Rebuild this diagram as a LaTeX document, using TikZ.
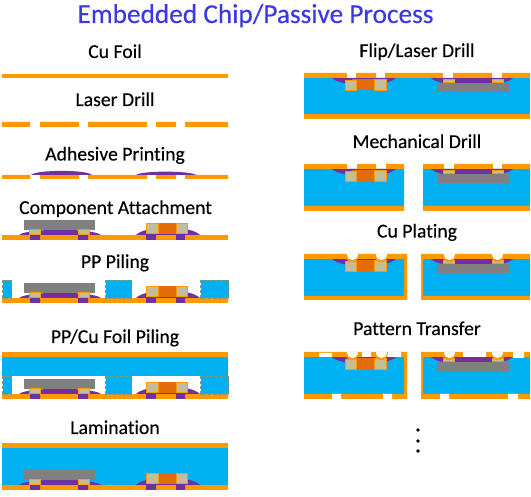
\documentclass[tikz,border=0pt]{standalone}
\usepackage{fontspec}
\setmainfont{Carlito}[Ligatures=CommonOff,FakeBold=0.25]
\definecolor{cu}{HTML}{FF9900}
\definecolor{pp}{HTML}{00B0F0}
\definecolor{adh}{HTML}{7030A0}
\definecolor{chipgrey}{HTML}{808080}
\definecolor{tan}{HTML}{C4BD97}
\definecolor{cerm}{HTML}{E36C09}
\definecolor{titleblue}{HTML}{3C38E4}
\definecolor{ppedge}{HTML}{7F9A75}
\tikzset{
  lbl/.style={font=\fontsize{19.7}{22}\selectfont,text=black,inner sep=0pt,anchor=base},
  ttl/.style={font=\fontsize{27.3}{30}\selectfont,text=titleblue,inner sep=0pt,anchor=base},
  pad/.style={fill=tan,draw=cu,line width=1pt},
  ppblock/.style={fill=pp,draw=ppedge,line width=0.8pt,densely dashed},
}
% left-column assembly on a foil whose top is y=235
\newcommand{\foilunit}{%
  \fill[cu] (2,235) rectangle (228,240);
  \fill[adh] (30,235) rectangle (40,240) (78,235) rectangle (88,240)
             (146,235) rectangle (156,240) (176,235) rectangle (185,240);
  \fill[adh] (19,235) .. controls (27,228) and (93,228) .. (101,235) -- cycle;
  \fill[adh] (136,235) .. controls (146,225) and (190,225) .. (200,235) -- cycle;
  \fill[chipgrey] (24,220) rectangle (95,230);
  \fill[cerm] (159,223) rectangle (176,234);
  \draw[pad] (29,230) rectangle (40.5,235) (78.5,230) rectangle (89.5,235);
  \draw[pad] (146.5,223.5) rectangle (158.5,234) (176.5,223.5) rectangle (187.5,234);
}
% right-column embedded parts, blue top at y=78
\newcommand{\flipL}{%
  \fill[adh] (332,78) .. controls (340,87) and (388,87) .. (396,78) -- cycle;
  \fill[cerm] (352,79) rectangle (375,90);
  \draw[pad] (345.5,80.5) rectangle (356.5,90.5) (374.5,79.5) rectangle (386.5,90.5);
}
\newcommand{\flipR}{%
  \fill[adh] (431,78) .. controls (439,88) and (505,88) .. (513,78) -- cycle;
  \draw[pad] (443.5,79.5) rectangle (454.5,83) (492.5,79.5) rectangle (503.5,83);
  \fill[chipgrey] (437,83) rectangle (508.5,92);
}
\newcommand{\dimple}[2]{%
  \fill[cu] (#1-7,#2) .. controls (#1-7,#2+11) and (#1+7,#2+11) .. (#1+7,#2) -- cycle;
  \fill[white] (#1-5.5,#2) .. controls (#1-5.5,#2+8) and (#1+5.5,#2+8) .. (#1+5.5,#2) -- cycle;
}
\begin{document}
\begin{tikzpicture}[x=1pt,y=-1pt]
\useasboundingbox (0,0) rectangle (531,497);
\fill[white] (0,0) rectangle (531,497);
\node[ttl] (title) at (255.5,23) {Embedded Chip/Passive Process};

% Cu Foil
\node[lbl] (l1) at (115,58) {Cu Foil};
\fill[cu] (2,74) rectangle (228,78);

% Laser Drill
\node[lbl] (l2) at (115,106) {Laser Drill};
\fill[cu] (2,122) rectangle (30,127) (40,122) rectangle (79,127) (88,122) rectangle (147,127)
          (156,122) rectangle (176,127) (185,122) rectangle (228,127);

% Adhesive Printing
\node[lbl] (l3) at (115,160.5) {Adhesive Printing};
\fill[cu] (2,175) rectangle (30,179) (40,175) rectangle (79,179) (88,175) rectangle (147,179)
          (156,175) rectangle (176,179) (185,175) rectangle (228,179);
\fill[adh] (31,175) .. controls (36,169.5) and (87,169.5) .. (92,175) -- cycle;
\fill[adh] (136,175) .. controls (142,170.5) and (190,170.5) .. (196,175) -- cycle;

% Component Attachment
\node[lbl] (l4) at (115.5,214) {Component Attachment};
\foilunit

% PP Piling
\node[lbl] (l5) at (115,268) {PP Piling};
\begin{scope}[shift={(0,63)}]\foilunit\end{scope}
\draw[ppblock] (2.5,280.5) rectangle (11.5,298);
\draw[ppblock] (105.5,280.5) rectangle (131.5,298);
\draw[ppblock] (200.5,280.5) rectangle (228.5,298);

% PP/Cu Foil Piling
\node[lbl] (l6) at (115,343) {PP/Cu Foil Piling};
\fill[cu] (2,352) rectangle (228,357);
\fill[pp] (2,357) rectangle (228,376);
\begin{scope}[shift={(0,159)}]\foilunit\end{scope}
\draw[ppblock] (2.5,376.5) rectangle (11.5,394);
\draw[ppblock] (105.5,376.5) rectangle (131.5,394);
\draw[ppblock] (200.5,376.5) rectangle (228.5,394);

% Lamination
\node[lbl] (l7) at (115,434) {Lamination};
\fill[cu] (2,443) rectangle (228,448);
\fill[pp] (2,448) rectangle (228,485);
\begin{scope}[shift={(0,250)}]\foilunit\end{scope}

% Flip/Laser Drill
\node[lbl] (r1) at (417,57) {Flip/Laser Drill};
\fill[pp] (304,78) rectangle (530,114);
\flipL \flipR
\fill[cu] (304,73) rectangle (347,78) (356,73) rectangle (376,78) (385,73) rectangle (443,78)
          (453,73) rectangle (492,78) (502,73) rectangle (530,78);
\fill[cu] (304,114) rectangle (530,119);

% Mechanical Drill
\node[lbl] (r2) at (417,148) {Mechanical Drill};
\fill[pp] (304,169) rectangle (404,206) (423,169) rectangle (530,206);
\begin{scope}[shift={(0,91)}]\flipL \flipR\end{scope}
\fill[cu] (304,164) rectangle (347,169) (357,164) rectangle (376,169) (386,164) rectangle (404,169)
          (423,164) rectangle (444,169) (454,164) rectangle (493,169) (502,164) rectangle (530,169);
\fill[cu] (304,206) rectangle (404,211) (423,206) rectangle (530,211);

% Cu Plating
\node[lbl] (r3) at (417,237.5) {Cu Plating};
\fill[pp] (304,259) rectangle (404,296) (423,259) rectangle (530,296);
\begin{scope}[shift={(0,181)}]\flipL \flipR\end{scope}
\fill[cu] (304,254) rectangle (407,259) (421,254) rectangle (530,259);
\fill[cu] (404,254) rectangle (407,300) (421,254) rectangle (423,300);
\fill[cu] (304,296) rectangle (407,300) (421,296) rectangle (530,300);
\dimple{352}{254}\dimple{381}{254}\dimple{449}{254}\dimple{497.5}{254}

% Pattern Transfer
\node[lbl] (r4) at (417,335) {Pattern Transfer};
\fill[pp] (304,357) rectangle (404,394) (423,357) rectangle (530,394);
\begin{scope}[shift={(0,279)}]\flipL \flipR\end{scope}
\fill[cu] (304,352) rectangle (407,357) (421,352) rectangle (530,357);
\fill[cu] (404,352) rectangle (407,399) (421,352) rectangle (423,399);
\fill[cu] (304,394) rectangle (407,399) (421,394) rectangle (530,399);
\fill[white] (319,353) rectangle (332,357) (362,352) rectangle (371,357) (387,352) rectangle (401,357)
             (463,352) rectangle (486,357) (513,352) rectangle (524,358);
\dimple{352}{352}\dimple{381}{352}\dimple{449}{352}\dimple{497.5}{352}
\fill[adh] (463,357) rectangle (486,358);
\fill[white] (332,394) rectangle (341,399) (383,394) rectangle (392,399)
             (440,394) rectangle (449,399) (508,394) rectangle (518,399);

% Ellipsis dots
\fill[black] (418,430) circle (1.8) (418,441) circle (1.8) (418,451) circle (1.8);
\end{tikzpicture}
\end{document}
